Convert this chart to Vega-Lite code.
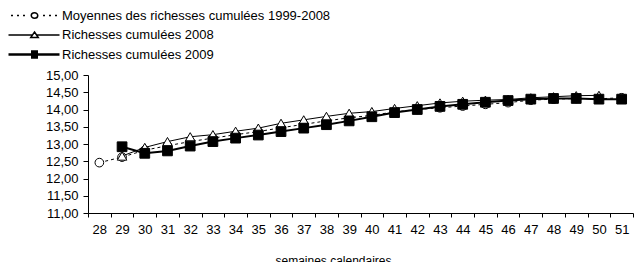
{
  "$schema": "https://vega.github.io/schema/vega-lite/v6.json",
  "autosize": {"type": "none"},
  "padding": {"left": 88, "top": 75, "right": 4, "bottom": 49},
  "width": 545,
  "height": 138,
  "config": {
    "view": {"stroke": null},
    "font": "Liberation Sans",
    "axis": {"labelFont": "Liberation Sans", "titleFont": "Liberation Sans", "labelColor": "black", "titleColor": "black", "domainColor": "black", "tickColor": "black", "grid": false},
    "legend": {"labelFont": "Liberation Sans"}
  },
  "data": {"values": [
    {"semaine": 28, "serie": "Moyennes des richesses cumulées 1999-2008", "valeur": 12.46},
    {"semaine": 29, "serie": "Moyennes des richesses cumulées 1999-2008", "valeur": 12.62},
    {"semaine": 30, "serie": "Moyennes des richesses cumulées 1999-2008", "valeur": 12.82},
    {"semaine": 31, "serie": "Moyennes des richesses cumulées 1999-2008", "valeur": 12.95},
    {"semaine": 32, "serie": "Moyennes des richesses cumulées 1999-2008", "valeur": 13.07},
    {"semaine": 33, "serie": "Moyennes des richesses cumulées 1999-2008", "valeur": 13.17},
    {"semaine": 34, "serie": "Moyennes des richesses cumulées 1999-2008", "valeur": 13.27},
    {"semaine": 35, "serie": "Moyennes des richesses cumulées 1999-2008", "valeur": 13.36},
    {"semaine": 36, "serie": "Moyennes des richesses cumulées 1999-2008", "valeur": 13.47},
    {"semaine": 37, "serie": "Moyennes des richesses cumulées 1999-2008", "valeur": 13.57},
    {"semaine": 38, "serie": "Moyennes des richesses cumulées 1999-2008", "valeur": 13.67},
    {"semaine": 39, "serie": "Moyennes des richesses cumulées 1999-2008", "valeur": 13.76},
    {"semaine": 40, "serie": "Moyennes des richesses cumulées 1999-2008", "valeur": 13.83},
    {"semaine": 41, "serie": "Moyennes des richesses cumulées 1999-2008", "valeur": 13.93},
    {"semaine": 42, "serie": "Moyennes des richesses cumulées 1999-2008", "valeur": 14.0},
    {"semaine": 43, "serie": "Moyennes des richesses cumulées 1999-2008", "valeur": 14.05},
    {"semaine": 44, "serie": "Moyennes des richesses cumulées 1999-2008", "valeur": 14.1},
    {"semaine": 45, "serie": "Moyennes des richesses cumulées 1999-2008", "valeur": 14.15},
    {"semaine": 46, "serie": "Moyennes des richesses cumulées 1999-2008", "valeur": 14.2},
    {"semaine": 47, "serie": "Moyennes des richesses cumulées 1999-2008", "valeur": 14.27},
    {"semaine": 48, "serie": "Moyennes des richesses cumulées 1999-2008", "valeur": 14.3},
    {"semaine": 49, "serie": "Moyennes des richesses cumulées 1999-2008", "valeur": 14.32},
    {"semaine": 50, "serie": "Moyennes des richesses cumulées 1999-2008", "valeur": 14.31},
    {"semaine": 51, "serie": "Moyennes des richesses cumulées 1999-2008", "valeur": 14.34},
    {"semaine": 29, "serie": "Richesses cumulées 2008", "valeur": 12.65},
    {"semaine": 30, "serie": "Richesses cumulées 2008", "valeur": 12.9},
    {"semaine": 31, "serie": "Richesses cumulées 2008", "valeur": 13.07},
    {"semaine": 32, "serie": "Richesses cumulées 2008", "valeur": 13.21},
    {"semaine": 33, "serie": "Richesses cumulées 2008", "valeur": 13.27},
    {"semaine": 34, "serie": "Richesses cumulées 2008", "valeur": 13.37},
    {"semaine": 35, "serie": "Richesses cumulées 2008", "valeur": 13.46},
    {"semaine": 36, "serie": "Richesses cumulées 2008", "valeur": 13.6},
    {"semaine": 37, "serie": "Richesses cumulées 2008", "valeur": 13.7},
    {"semaine": 38, "serie": "Richesses cumulées 2008", "valeur": 13.8},
    {"semaine": 39, "serie": "Richesses cumulées 2008", "valeur": 13.89},
    {"semaine": 40, "serie": "Richesses cumulées 2008", "valeur": 13.94},
    {"semaine": 41, "serie": "Richesses cumulées 2008", "valeur": 14.03},
    {"semaine": 42, "serie": "Richesses cumulées 2008", "valeur": 14.11},
    {"semaine": 43, "serie": "Richesses cumulées 2008", "valeur": 14.19},
    {"semaine": 44, "serie": "Richesses cumulées 2008", "valeur": 14.24},
    {"semaine": 45, "serie": "Richesses cumulées 2008", "valeur": 14.27},
    {"semaine": 46, "serie": "Richesses cumulées 2008", "valeur": 14.29},
    {"semaine": 47, "serie": "Richesses cumulées 2008", "valeur": 14.34},
    {"semaine": 48, "serie": "Richesses cumulées 2008", "valeur": 14.37},
    {"semaine": 49, "serie": "Richesses cumulées 2008", "valeur": 14.4},
    {"semaine": 50, "serie": "Richesses cumulées 2008", "valeur": 14.41},
    {"semaine": 29, "serie": "Richesses cumulées 2009", "valeur": 12.92},
    {"semaine": 30, "serie": "Richesses cumulées 2009", "valeur": 12.73},
    {"semaine": 31, "serie": "Richesses cumulées 2009", "valeur": 12.8},
    {"semaine": 32, "serie": "Richesses cumulées 2009", "valeur": 12.94},
    {"semaine": 33, "serie": "Richesses cumulées 2009", "valeur": 13.07},
    {"semaine": 34, "serie": "Richesses cumulées 2009", "valeur": 13.17},
    {"semaine": 35, "serie": "Richesses cumulées 2009", "valeur": 13.26},
    {"semaine": 36, "serie": "Richesses cumulées 2009", "valeur": 13.36},
    {"semaine": 37, "serie": "Richesses cumulées 2009", "valeur": 13.46},
    {"semaine": 38, "serie": "Richesses cumulées 2009", "valeur": 13.56},
    {"semaine": 39, "serie": "Richesses cumulées 2009", "valeur": 13.67},
    {"semaine": 40, "serie": "Richesses cumulées 2009", "valeur": 13.79},
    {"semaine": 41, "serie": "Richesses cumulées 2009", "valeur": 13.91},
    {"semaine": 42, "serie": "Richesses cumulées 2009", "valeur": 14.0},
    {"semaine": 43, "serie": "Richesses cumulées 2009", "valeur": 14.09},
    {"semaine": 44, "serie": "Richesses cumulées 2009", "valeur": 14.15},
    {"semaine": 45, "serie": "Richesses cumulées 2009", "valeur": 14.21},
    {"semaine": 46, "serie": "Richesses cumulées 2009", "valeur": 14.26},
    {"semaine": 47, "serie": "Richesses cumulées 2009", "valeur": 14.3},
    {"semaine": 48, "serie": "Richesses cumulées 2009", "valeur": 14.32},
    {"semaine": 49, "serie": "Richesses cumulées 2009", "valeur": 14.32},
    {"semaine": 50, "serie": "Richesses cumulées 2009", "valeur": 14.3},
    {"semaine": 51, "serie": "Richesses cumulées 2009", "valeur": 14.3}
  ]},
  "encoding": {
    "x": {
      "field": "semaine", "type": "ordinal",
      "scale": {"type": "band", "paddingInner": 0, "paddingOuter": 0},
      "axis": {
        "labelAngle": 0, "labelFontSize": 13, "tickBand": "extent", "tickSize": 4, "labelPadding": 6,
        "title": "semaines calendaires", "titleFontSize": 12, "titleFontWeight": "normal",
        "titleX": 245, "titleY": 51, "titleBaseline": "alphabetic"
      }
    },
    "y": {
      "field": "valeur", "type": "quantitative",
      "scale": {"domain": [11, 15], "nice": false, "zero": false},
      "axis": {
        "values": [11, 11.5, 12, 12.5, 13, 13.5, 14, 14.5, 15],
        "labelExpr": "replace(format(datum.value, '.2f'), '.', ',')",
        "labelFontSize": 13, "tickSize": 5, "labelPadding": 5, "title": null
      }
    }
  },
  "layer": [
    {
      "transform": [{"filter": "datum.serie === 'Moyennes des richesses cumulées 1999-2008'"}],
      "mark": {"type": "line", "stroke": "black", "strokeWidth": 1, "strokeDash": [3, 3]}
    },
    {
      "transform": [{"filter": "datum.serie === 'Moyennes des richesses cumulées 1999-2008'"}],
      "mark": {"type": "point", "shape": "circle", "size": 75, "filled": true, "fill": "white", "stroke": "black", "strokeWidth": 1, "opacity": 1}
    },
    {
      "transform": [{"filter": "datum.serie === 'Richesses cumulées 2008'"}],
      "mark": {"type": "line", "stroke": "black", "strokeWidth": 1}
    },
    {
      "transform": [{"filter": "datum.serie === 'Richesses cumulées 2008'"}],
      "mark": {"type": "point", "shape": "triangle-up", "size": 90, "filled": true, "fill": "white", "stroke": "black", "strokeWidth": 1, "opacity": 1}
    },
    {
      "transform": [{"filter": "datum.serie === 'Richesses cumulées 2009'"}],
      "mark": {"type": "line", "stroke": "black", "strokeWidth": 2}
    },
    {
      "transform": [{"filter": "datum.serie === 'Richesses cumulées 2009'"}],
      "mark": {"type": "point", "shape": "square", "size": 95, "filled": true, "fill": "black", "stroke": "black", "strokeWidth": 1, "opacity": 1}
    },
    {
      "mark": {"type": "point", "opacity": 0, "filled": false, "stroke": "black"},
      "encoding": {
        "shape": {
          "field": "serie", "type": "nominal",
          "scale": {
            "domain": ["Moyennes des richesses cumulées 1999-2008", "Richesses cumulées 2008", "Richesses cumulées 2009"],
            "range": [
              "M-4.7,0H-4.3M-3.5,0H-3.1M-2.3,0H-1.9M1.7,0H2.1M2.9,0H3.3M4.1,0H4.5M0.65,0A0.65,0.55 0 1,1 -0.65,0A0.65,0.55 0 1,1 0.65,0Z",
              "M-5.2,0H-0.42M0.42,0H5M0,-0.6L0.75,0.5L-0.75,0.5Z",
              "M-5.2,-0.1H5M-5.2,0.1H5M-0.7,-0.7H0.7M-0.7,-0.5H0.7M-0.7,-0.3H0.7M-0.7,-0.1H0.7M-0.7,0.1H0.7M-0.7,0.3H0.7M-0.7,0.5H0.7M-0.7,0.7H0.7"
            ]
          },
          "legend": {
            "orient": "none", "legendX": -60, "legendY": -66, "title": null,
            "padding": 0, "symbolSize": 100, "symbolOffset": 0, "labelOffset": 21,
            "labelFontSize": 13, "labelColor": "black", "labelLimit": 400,
            "rowPadding": 5.5,
            "encode": {
              "symbols": {
                "update": {
                  "stroke": {"value": "black"},
                  "strokeOpacity": {"value": 1},
                  "strokeWidth": {"value": 1},
                  "fill": {"value": "transparent"},
                  "opacity": {"value": 1},
                  "size": {"value": 100}
                }
              }
            }
          }
        }
      }
    }
  ]
}
